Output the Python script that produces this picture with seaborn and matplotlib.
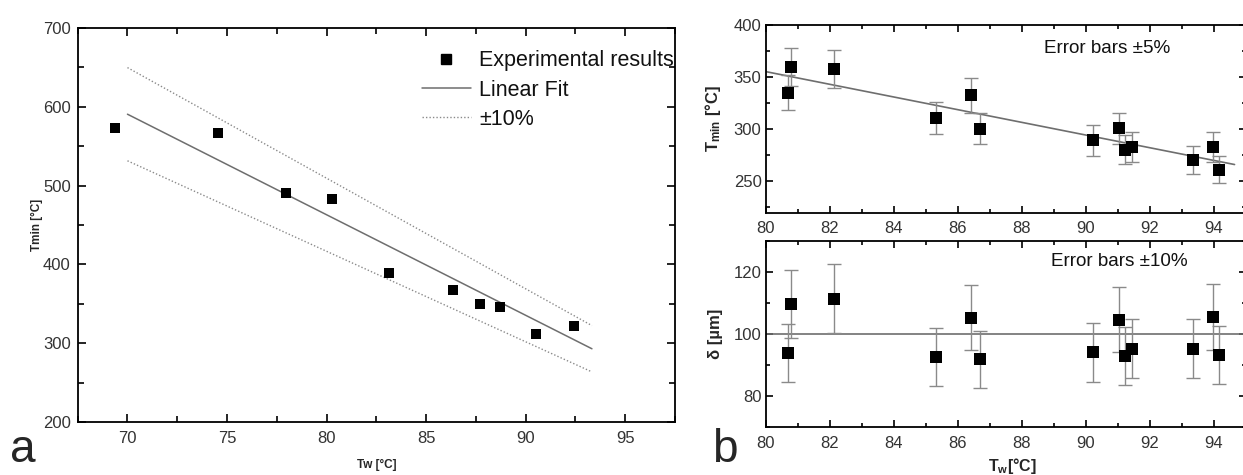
import numpy as np
import matplotlib
matplotlib.use("Agg")
import matplotlib.pyplot as plt
import seaborn as sns
from matplotlib.ticker import MultipleLocator
from matplotlib.lines import Line2D

# ---------------- data: panel a ----------------
tw_a = [69.37, 74.54, 77.94, 80.26, 83.15, 86.35, 87.72, 88.73, 90.54, 92.44]
tmin_a = [573.5, 566.4, 490.0, 482.5, 388.9, 367.8, 350.1, 346.7, 311.3, 321.8]
fit_tw_a = [70.0, 93.33]
fit_tmin_a = [590.4, 293.2]
band_a = 0.10
legend_labels_a = ["Experimental results", "Linear Fit", "±10%"]

# ---------------- data: panel b ----------------
tw_b = [80.71, 80.79, 82.12, 85.32, 86.41, 86.70, 90.23, 91.04, 91.24, 91.45, 93.34, 93.97, 94.15]
tmin_b = [335.0, 359.7, 357.8, 310.6, 332.4, 300.7, 289.3, 301.0, 280.4, 283.0, 270.3, 283.0, 261.4]
delta_b = [93.9, 109.6, 111.4, 92.7, 105.3, 91.9, 94.1, 104.6, 93.0, 95.3, 95.3, 105.5, 93.4]
fit_tw_b = [80.0, 94.65]
fit_tmin_b = [355.3, 266.2]
err_tmin = 0.05
err_delta = 0.10
delta_ref = 100.0

# ---------------- style ----------------
sns.set_theme(style="ticks")
plt.rcParams["font.family"] = ["Liberation Sans", "DejaVu Sans"]
plt.rcParams["mathtext.fontset"] = "custom"
plt.rcParams["mathtext.rm"] = "Liberation Sans"
plt.rcParams["mathtext.bf"] = "Liberation Sans:bold"
plt.rcParams["mathtext.it"] = "Liberation Sans:italic"

TICK_COLOR = "#333333"
FIT_COLOR = "#6e6e6e"
BAND_COLOR = "#8a8a8a"
ERR_COLOR = "#8a8a8a"

fig = plt.figure(figsize=(12.43, 4.75), dpi=100)
axA = fig.add_axes([0.0625, 0.1109, 0.4805, 0.8308])
axB1 = fig.add_axes([0.616, 0.5522, 0.3862, 0.3952])
axB2 = fig.add_axes([0.616, 0.1004, 0.3862, 0.3922])


def style_axes(ax, maj_len=5, min_len=3, xpad=6, ypad=4):
    for s in ax.spines.values():
        s.set_linewidth(1.3)
        s.set_color("black")
    ax.tick_params(which="both", direction="in", top=True, right=True,
                   colors="black", labelcolor=TICK_COLOR, labelsize=12, width=1.2)
    ax.tick_params(which="major", length=maj_len)
    ax.tick_params(which="minor", length=min_len)
    ax.tick_params(axis="x", which="both", pad=xpad)
    ax.tick_params(axis="y", which="both", pad=ypad)


# ---------------- panel a ----------------
xa = np.array(tw_a)
ya = np.array(tmin_a)
xf_a = np.array(fit_tw_a)
yf_a = np.array(fit_tmin_a)

sns.lineplot(x=xf_a, y=yf_a * (1 + band_a), ax=axA, color=BAND_COLOR, lw=1.0,
             linestyle=(0, (1, 1.5)), zorder=1)
sns.lineplot(x=xf_a, y=yf_a * (1 - band_a), ax=axA, color=BAND_COLOR, lw=1.0,
             linestyle=(0, (1, 1.5)), zorder=1)
sns.lineplot(x=xf_a, y=yf_a, ax=axA, color=FIT_COLOR, lw=1.1, zorder=2)
sns.scatterplot(x=xa, y=ya, ax=axA, marker="s", s=44, color="black",
                edgecolor="black", linewidth=0, zorder=3)

axA.set_xlim(67.5, 97.5)
axA.set_ylim(200, 700)
axA.xaxis.set_major_locator(MultipleLocator(5))
axA.xaxis.set_minor_locator(MultipleLocator(2.5))
axA.yaxis.set_major_locator(MultipleLocator(100))
axA.yaxis.set_minor_locator(MultipleLocator(50))
style_axes(axA, maj_len=6, min_len=4, xpad=6, ypad=5)
axA.set_xlabel("Tw [°C]", fontsize=8.5, fontweight="bold")
axA.set_ylabel("Tmin [°C]", fontsize=8.5, fontweight="bold")
axA.xaxis.set_label_coords(0.5, -0.093)
axA.yaxis.set_label_coords(-0.058, 0.5)

handles = [
    Line2D([], [], marker="s", color="black", linestyle="none", markersize=6.5),
    Line2D([], [], color=FIT_COLOR, lw=1.1),
    Line2D([], [], color=BAND_COLOR, lw=1.0, linestyle=(0, (1, 1.5))),
]
leg = axA.legend(handles, legend_labels_a, loc="upper left", bbox_to_anchor=(0.576, 0.943),
                 frameon=False, fontsize=15.5, handlelength=2.28, handletextpad=0.4,
                 borderpad=0, borderaxespad=0, labelspacing=0.39)
for t in leg.get_texts():
    t.set_color("#111111")

# ---------------- panel b (top) ----------------
xb = np.array(tw_b)
yb = np.array(tmin_b)
db = np.array(delta_b)

sns.lineplot(x=np.array(fit_tw_b), y=np.array(fit_tmin_b), ax=axB1, color=FIT_COLOR,
             lw=1.2, zorder=1)
axB1.errorbar(xb, yb, yerr=yb * err_tmin, fmt="none", ecolor=ERR_COLOR,
              elinewidth=1.0, capsize=5, capthick=1.0, zorder=2)
sns.scatterplot(x=xb, y=yb, ax=axB1, marker="s", s=70, color="black",
                edgecolor="black", linewidth=0, zorder=3)
axB1.set_xlim(80, 95)
axB1.set_ylim(220, 400)
axB1.xaxis.set_major_locator(MultipleLocator(2))
axB1.xaxis.set_minor_locator(MultipleLocator(1))
axB1.yaxis.set_major_locator(MultipleLocator(50))
axB1.yaxis.set_minor_locator(MultipleLocator(25))
style_axes(axB1, maj_len=5, min_len=3, xpad=6, ypad=3)
axB1.set_ylabel(r"$\mathbf{T_{min}}$ [°C]", fontsize=12, fontweight="bold")
axB1.yaxis.set_label_coords(-0.089, 0.5)
axB1.text(88.7, 377, "Error bars ±5%", fontsize=13.6, va="center", ha="left", color="#111111")

# ---------------- panel b (bottom) ----------------
axB2.axhline(delta_ref, color=FIT_COLOR, lw=1.2, zorder=1)
axB2.errorbar(xb, db, yerr=db * err_delta, fmt="none", ecolor=ERR_COLOR,
              elinewidth=1.0, capsize=5, capthick=1.0, zorder=2)
sns.scatterplot(x=xb, y=db, ax=axB2, marker="s", s=70, color="black",
                edgecolor="black", linewidth=0, zorder=3)
axB2.set_xlim(80, 95)
axB2.set_ylim(70, 130)
axB2.xaxis.set_major_locator(MultipleLocator(2))
axB2.xaxis.set_minor_locator(MultipleLocator(1))
axB2.yaxis.set_major_locator(MultipleLocator(20))
axB2.yaxis.set_minor_locator(MultipleLocator(10))
style_axes(axB2, maj_len=5, min_len=3, xpad=6, ypad=3)
axB2.set_ylabel("δ [µm]", fontsize=12, fontweight="bold")
axB2.yaxis.set_label_coords(-0.089, 0.5)
axB2.set_xlabel(r"$\mathbf{T_{w}}$[°C]", fontsize=11.5, fontweight="bold")
axB2.xaxis.set_label_coords(0.513, -0.152)
axB2.text(88.9, 123.4, "Error bars ±10%", fontsize=13.6, va="center", ha="left", color="#111111")

# ---------------- panel letters ----------------
fig.text(10 / 1243, 13.3 / 475, "a", fontsize=33, va="baseline", ha="left")
fig.text(712 / 1243, 13.3 / 475, "b", fontsize=33, va="baseline", ha="left")

fig.savefig("out.png", dpi=100)
